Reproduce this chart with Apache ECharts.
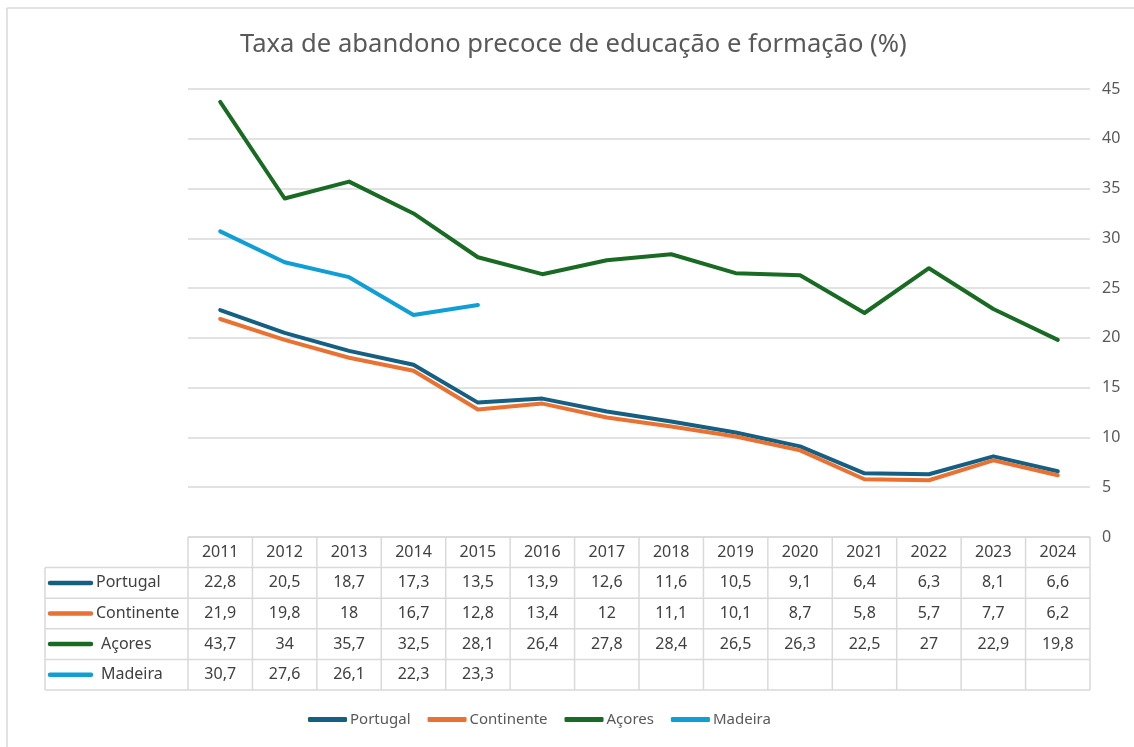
<!DOCTYPE html>
<html>
<head>
<meta charset="utf-8">
<script src="https://cdn.jsdelivr.net/npm/echarts@6/dist/echarts.min.js"></script>
<style>
html,body{margin:0;padding:0;background:#fff;}
#c{width:1134px;height:747px;}
</style>
</head>
<body>
<div id="c"></div>
<script>
const years = ['2011','2012','2013','2014','2015','2016','2017','2018','2019','2020','2021','2022','2023','2024'];
const portugal = [22.8,20.5,18.7,17.3,13.5,13.9,12.6,11.6,10.5,9.1,6.4,6.3,8.1,6.6];
const continente = [21.9,19.8,18,16.7,12.8,13.4,12,11.1,10.1,8.7,5.8,5.7,7.7,6.2];
const acores = [43.7,34,35.7,32.5,28.1,26.4,27.8,28.4,26.5,26.3,22.5,27,22.9,19.8];
const madeira = [30.7,27.6,26.1,22.3,23.3,null,null,null,null,null,null,null,null,null];
const seriesNames = ['Portugal','Continente','Açores','Madeira'];
const seriesColors = ['#156082','#E97132','#196B24','#0F9ED5'];
const yMin = 0, yMax = 45, yStep = 5;

const FONT = '"Noto Sans", sans-serif';
const seriesData = [portugal, continente, acores, madeira];

const chart = echarts.init(document.getElementById('c'), null, {renderer:'canvas'});
const option = {
  backgroundColor:'#fff',
  animation:false,
  title:{
    text:'Taxa de abandono precoce de educação e formação (%)',
    left:235, top:27,
    textStyle:{fontFamily:FONT, fontSize:25.6, fontWeight:'normal', color:'#595959'}
  },
  legend:{
    data:seriesNames.map(n=>({name:n, icon:'roundRect'})),
    bottom:15, left:303,
    itemWidth:39, itemHeight:5, itemGap:17,
    textStyle:{fontFamily:FONT, fontSize:15, color:'#595959', padding:[0,0,0,-2]}
  },
  grid:{left:188, right:44, top:89, bottom:210, containLabel:false},
  xAxis:{
    type:'category', data:years, boundaryGap:true,
    axisLine:{show:false}, axisTick:{show:false}, axisLabel:{show:false}, splitLine:{show:false}
  },
  yAxis:{
    type:'value', position:'right', min:yMin, max:yMax, interval:yStep,
    axisLine:{show:false}, axisTick:{show:false},
    axisLabel:{fontFamily:FONT, fontSize:16, color:'#595959', margin:12},
    splitLine:{lineStyle:{color:'#d9d9d9', width:1.5}}
  },
  series: seriesNames.map((n,i)=>({
    name:n, type:'line', data:seriesData[i], symbol:'none', connectNulls:false,
    lineStyle:{color:seriesColors[i], width:4, join:'round', cap:'round'},
    itemStyle:{color:seriesColors[i]}
  }))
};
chart.setOption(option);

function fmt(v){ return v==null ? '' : String(v).replace('.', ','); }

function buildTable(){
  const xs = years.map(y => chart.convertToPixel({xAxisIndex:0}, y));
  const w = xs[1]-xs[0];
  const yTop = chart.convertToPixel({yAxisIndex:0}, 0);
  const rowH = 30.6;
  const xL = xs[0]-w/2, xR = xs[xs.length-1]+w/2;
  const labL = 45;
  const nRows = 1 + seriesNames.length;
  const yBot = yTop + rowH*nRows;
  const g = [];
  const stroke = {stroke:'#d9d9d9', lineWidth:1.5};
  g.push({type:'line', shape:{x1:xL,y1:yTop,x2:xR,y2:yTop}, style:stroke});
  for(let r=1;r<=nRows;r++){
    const y = yTop + rowH*r;
    g.push({type:'line', shape:{x1:labL,y1:y,x2:xR,y2:y}, style:stroke});
  }
  g.push({type:'line', shape:{x1:labL,y1:yTop+rowH,x2:labL,y2:yBot}, style:stroke});
  for(let c=0;c<=years.length;c++){
    const x = xL + w*c;
    g.push({type:'line', shape:{x1:x,y1:yTop,x2:x,y2:yBot}, style:stroke});
  }
  const tf = '16px ' + FONT;
  years.forEach((y,i)=>{
    g.push({type:'text', x:xs[i], y:yTop+rowH/2, style:{text:y, font:tf, fill:'#404040', textAlign:'center', textVerticalAlign:'middle'}});
  });
  seriesNames.forEach((n,si)=>{
    const cy = yTop + rowH*(si+1) + rowH/2;
    g.push({type:'line', shape:{x1:50,y1:cy,x2:91,y2:cy}, style:{stroke:seriesColors[si], lineWidth:4.5, lineCap:'round'}});
    const tx = (si>=2) ? 101 : 96;
    g.push({type:'text', x:tx, y:cy, style:{text:n, font:tf, fill:'#404040', textAlign:'left', textVerticalAlign:'middle'}});
    seriesData[si].forEach((v,i)=>{
      if(v==null) return;
      g.push({type:'text', x:xs[i], y:cy, style:{text:fmt(v), font:tf, fill:'#404040', textAlign:'center', textVerticalAlign:'middle'}});
    });
  });
  g.push({type:'line', shape:{x1:7,y1:8,x2:1134,y2:8}, style:{stroke:'#d9d9d9', lineWidth:1.5}});
  g.push({type:'line', shape:{x1:7,y1:8,x2:7,y2:747}, style:{stroke:'#d9d9d9', lineWidth:1.5}});
  chart.setOption({graphic:{elements:g}});
}
buildTable();
</script>
</body>
</html>
